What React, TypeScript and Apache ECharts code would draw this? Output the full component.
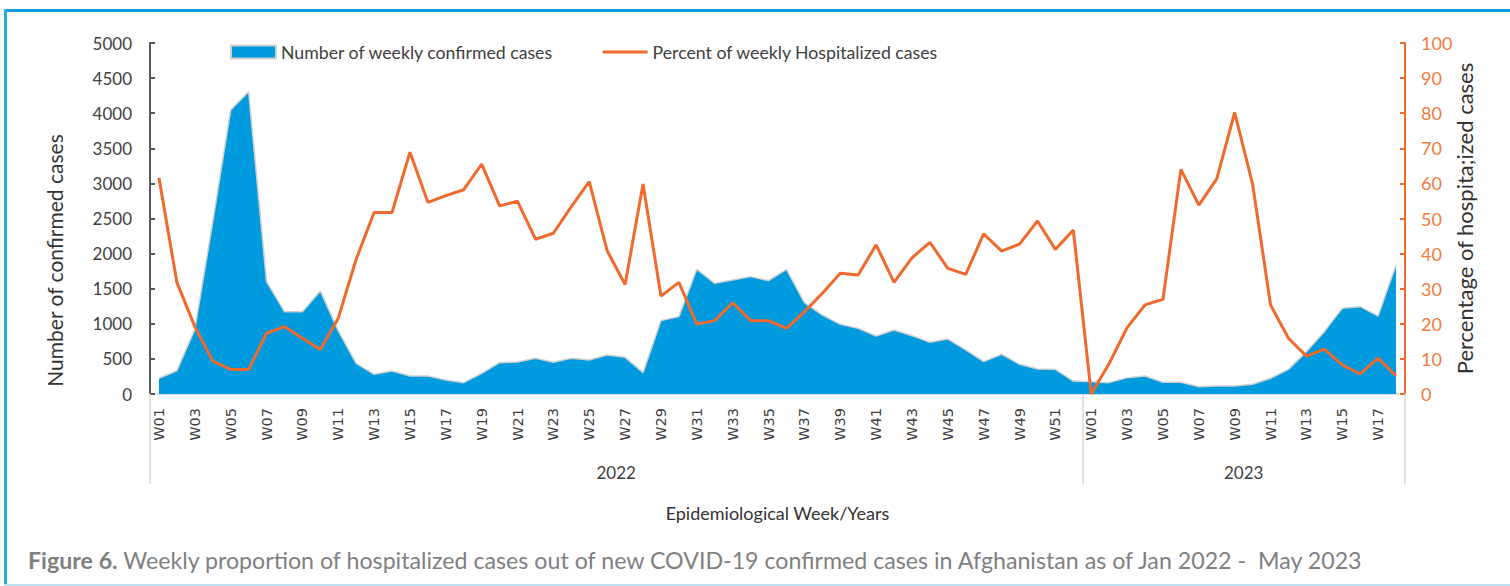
import React, { useEffect, useRef } from "react";
import * as echarts from "echarts";

const yearLabels = ["2022", "2023"];
const yearWeekCounts = [52, 18];

const cases2022 = [
  224, 332, 920, 2450, 4045, 4307, 1600, 1173, 1173, 1467,
  900, 437, 280, 327, 256, 256, 199, 161, 294, 446,
  455, 508, 451, 508, 484, 556, 522, 304, 1045, 1102,
  1776, 1576, 1624, 1672, 1615, 1776, 1301, 1125, 992, 935,
  826, 912, 831, 736, 783, 627, 461, 565, 423, 356,
  351, 185,
];
const cases2023 = [
  176, 162, 233, 256, 166, 166, 104, 114, 114, 138,
  224, 351, 603, 888, 1220, 1244, 1111, 1838,
];
const pct2022 = [
  61.6, 31.8, 19.2, 9.4, 7.0, 7.0, 17.3, 19.2, 15.9, 12.7,
  21.6, 38.4, 51.7, 51.7, 68.9, 54.6, 56.5, 58.2, 65.5, 53.6,
  54.9, 44.1, 45.8, 53.4, 60.5, 40.8, 31.2, 59.8, 27.9, 31.8,
  19.9, 20.9, 26.0, 20.9, 20.9, 18.7, 23.4, 28.7, 34.4, 33.9,
  42.5, 31.8, 38.8, 43.2, 35.8, 34.1, 45.6, 40.7, 42.7, 49.3,
  41.2, 46.7,
];
const pct2023 = [
  0, 8.7, 18.9, 25.4, 27.0, 64.0, 53.8, 61.3, 80.2, 59.8,
  25.4, 15.9, 10.8, 12.8, 8.3, 5.7, 10.2, 5.2,
];

const seriesNames = ["Number of weekly confirmed cases", "Percent of weekly Hospitalized cases"];
const leftAxisName = "Number of confirmed cases";
const rightAxisName = "Percentage of hospita;ized cases";
const xAxisName = "Epidemiological Week/Years";
const captionBold = "Figure 6.";
const captionText =
  " Weekly proportion of hospitalized cases out of new COVID-19 confirmed cases in Afghanistan as of Jan 2022 -  May 2023";

const weekLabel = (n: number) => "W" + (n < 10 ? "0" + n : String(n));
const categories: string[] = [];
yearWeekCounts.forEach((count) => {
  for (let w = 1; w <= count; w++) categories.push(weekLabel(w));
});

const cases = [...cases2022, ...cases2023];
const pct = [...pct2022, ...pct2023];

// year group boundaries & mid points on a 0..N value scale
const boundaries: number[] = [0];
const mids: number[] = [];
yearWeekCounts.forEach((c) => {
  const start = boundaries[boundaries.length - 1];
  mids.push(start + c / 2);
  boundaries.push(start + c);
});
const total = boundaries[boundaries.length - 1];

const FONT = "Lato";
const BLUE = "#009ADE";
const ORANGE = "#EF6A2C";
const ORANGE_TXT = "#F47A3E";

export default function App() {
  const ref = useRef<HTMLDivElement>(null);
  useEffect(() => {
    if (!ref.current) return;
    const chart = echarts.init(ref.current, undefined, { renderer: "svg" });
    chart.setOption({
      animation: false,
      backgroundColor: "#ffffff",
      legend: {
        left: 225,
        top: 38,
        itemWidth: 45,
        itemHeight: 13,
        itemGap: 49,
        textStyle: { fontFamily: FONT, fontSize: 17.7, color: "#404040" },
        data: [
          { name: seriesNames[0], icon: "rect" },
          { name: seriesNames[1], icon: "path://M0,0 M0,5 L45,5 L45,8 L0,8 Z M45,13" },
        ],
      },
      grid: { left: 150, right: 105, top: 43, bottom: 192, containLabel: false },
      xAxis: [
        {
          type: "category",
          data: categories,
          boundaryGap: true,
          axisLine: { show: true, lineStyle: { color: "#d9d9d9", width: 1.5 } },
          axisTick: { show: false },
          axisLabel: {
            interval: 1,
            rotate: 90,
            margin: 14,
            fontFamily: "DejaVu Sans",
            fontSize: 14.5,
            color: "#404040",
          },
        },
        {
          type: "value",
          position: "bottom",
          min: 0,
          max: total,
          axisLine: { show: false },
          splitLine: { show: false },
          axisTick: {
            show: true,
            customValues: boundaries,
            length: 90,
            inside: false,
            lineStyle: { color: "#d9d9d9", width: 1.5 },
          },
          axisLabel: {
            customValues: mids,
            margin: 70,
            fontFamily: FONT,
            fontSize: 17,
            color: "#404040",
            formatter: (v: number) => {
              const i = mids.indexOf(v);
              return i >= 0 ? yearLabels[i] : "";
            },
          },
          name: xAxisName,
          nameLocation: "middle",
          nameGap: 110,
          nameMoveOverlap: false,
          nameTextStyle: { fontFamily: FONT, fontSize: 18, color: "#333333" },
        },
      ],
      yAxis: [
        {
          type: "value",
          min: 0,
          max: 5000,
          interval: 500,
          position: "left",
          axisLine: { show: true, lineStyle: { color: "#595959", width: 2 } },
          axisTick: { show: true, inside: true, length: 5, lineStyle: { color: "#595959", width: 2 } },
          splitLine: { show: false },
          axisLabel: {
            fontFamily: FONT,
            fontSize: 17,
            color: "#404040",
            margin: 18,
            formatter: (v: number) => String(v),
          },
          name: leftAxisName,
          nameLocation: "middle",
          nameRotate: 90,
          nameGap: 85,
          nameMoveOverlap: false,
          nameTextStyle: { fontFamily: FONT, fontSize: 21, color: "#333333", padding: [0, 84, 0, 0] },
        },
        {
          type: "value",
          min: 0,
          max: 100,
          interval: 10,
          position: "right",
          axisLine: { show: true, lineStyle: { color: ORANGE, width: 2 } },
          axisTick: { show: true, inside: true, length: 5, lineStyle: { color: ORANGE, width: 2 } },
          splitLine: { show: false },
          axisLabel: { fontFamily: FONT, fontSize: 18, color: ORANGE_TXT, margin: 16 },
          name: rightAxisName,
          nameLocation: "middle",
          nameRotate: 90,
          nameGap: 48,
          nameMoveOverlap: false,
          nameTextStyle: { fontFamily: FONT, fontSize: 22, color: "#333333" },
        },
      ],
      series: [
        {
          name: seriesNames[0],
          type: "line",
          xAxisIndex: 0,
          yAxisIndex: 0,
          data: cases,
          symbol: "none",
          itemStyle: { color: BLUE, borderColor: "#cfcfcf", borderWidth: 1 },
          lineStyle: { color: "#cfcfcf", width: 1.5 },
          areaStyle: { color: BLUE, opacity: 1 },
          z: 1,
        },
        {
          name: seriesNames[1],
          type: "line",
          xAxisIndex: 0,
          yAxisIndex: 1,
          data: pct,
          symbol: "none",
          itemStyle: { color: ORANGE },
          lineStyle: { color: ORANGE, width: 3 },
          z: 3,
        },
      ],
      graphic: [
        { type: "rect", shape: { x: 4, y: 9, width: 1506, height: 3 }, style: { fill: "#0A9BDA" }, silent: true },
        { type: "rect", shape: { x: 4, y: 9, width: 3, height: 577 }, style: { fill: "#2AA8E0" }, silent: true },
        { type: "rect", shape: { x: 4, y: 584, width: 1506, height: 2 }, style: { fill: "#BFE2F1" }, silent: true },
        {
          type: "text",
          left: 28,
          top: 548,
          style: {
            text: "{b|" + captionBold + "}" + captionText,
            fontFamily: FONT,
            fontSize: 23.2,
            fill: "#7f7f7f",
            rich: {
              b: { fontFamily: FONT, fontSize: 23.2, fontWeight: "bold", fill: "#7f7f7f" },
            },
          },
        },
      ],
    });
    return () => chart.dispose();
  }, []);
  return (
    <div
      ref={ref}
      style={{ position: "fixed", left: 0, top: 0, width: 1510, height: 586, background: "#fff" }}
    />
  );
}
